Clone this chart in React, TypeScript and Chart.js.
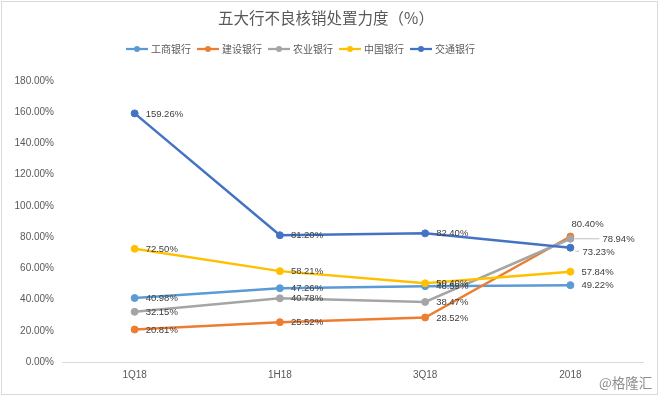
import React, { useEffect, useRef } from "react";
import { Chart, registerables } from "chart.js";

Chart.register(...registerables);

const categories = ["1Q18", "1H18", "3Q18", "2018"];
const seriesNames = ["工商银行", "建设银行", "农业银行", "中国银行", "交通银行"];
const icbcValues = [40.98, 47.26, 48.59, 49.22];
const ccbValues = [20.81, 25.52, 28.52, 80.4];
const abcValues = [32.15, 40.78, 38.47, 78.94];
const bocValues = [72.5, 58.21, 50.4, 57.84];
const bocomValues = [159.26, 81.2, 82.4, 73.23];
const seriesColors = ["#5B9BD5", "#ED7D31", "#A5A5A5", "#FFC000", "#4472C4"];
const yMin = 0;
const yMax = 180;
const yStep = 20;
const titleText = "五大行不良核销处置力度（%）";
const watermarkText = "@格隆汇";

const seriesValues = [icbcValues, ccbValues, abcValues, bocValues, bocomValues];

// label placement tweaks (style only): key "series-index" -> [dx, dy, leaderFrom, leaderTo]
const labelTweaks: Record<string, number[]> = {
  "1-3": [1, -12.5],
  "2-3": [32, 1, 4, 29],
  "4-3": [12, 4.5, 5, 9],
};

const fmt = (v: number) => v.toFixed(2) + "%";

const NUM_FONT = "'Liberation Sans', Arial, 'Noto Sans CJK SC', sans-serif";
const CJK_FONT = "'Noto Sans CJK SC', 'Liberation Sans', sans-serif";

const decorPlugin = {
  id: "decor",
  afterDatasetsDraw(chart: any) {
    const ctx = chart.ctx;
    ctx.save();
    ctx.font = "9.5px " + NUM_FONT;
    ctx.fillStyle = "#404040";
    ctx.textAlign = "left";
    ctx.textBaseline = "middle";
    chart.data.datasets.forEach((ds: any, si: number) => {
      const meta = chart.getDatasetMeta(si);
      meta.data.forEach((pt: any, i: number) => {
        const t = labelTweaks[si + "-" + i] || [11, 0.5];
        const x = pt.x + t[0];
        const y = pt.y + t[1];
        if (t.length > 2) {
          ctx.strokeStyle = "#BFBFBF";
          ctx.lineWidth = 1;
          ctx.beginPath();
          ctx.moveTo(pt.x + t[2], y - 1);
          ctx.lineTo(pt.x + t[3], y - 1);
          ctx.stroke();
        }
        ctx.fillText(fmt(ds.data[i]), x, y);
      });
    });
    ctx.restore();
  },
  afterDraw(chart: any) {
    const ctx = chart.ctx;
    ctx.save();
    // frame
    ctx.strokeStyle = "#D9D9D9";
    ctx.lineWidth = 1;
    ctx.strokeRect(1.5, 1.5, 656, 393);
    // title
    ctx.fillStyle = "#595959";
    ctx.font = "15.5px " + CJK_FONT;
    ctx.textAlign = "center";
    ctx.textBaseline = "middle";
    ctx.fillText(titleText, 326, 18.5);
    // legend
    ctx.font = "10px " + CJK_FONT;
    ctx.textAlign = "left";
    let x = 126;
    const ly = 49;
    seriesNames.forEach((name, i) => {
      ctx.strokeStyle = seriesColors[i];
      ctx.fillStyle = seriesColors[i];
      ctx.lineWidth = 2.25;
      ctx.beginPath();
      ctx.moveTo(x, ly);
      ctx.lineTo(x + 22, ly);
      ctx.stroke();
      ctx.beginPath();
      ctx.arc(x + 11, ly, 3, 0, Math.PI * 2);
      ctx.fill();
      ctx.fillStyle = "#595959";
      ctx.fillText(name, x + 25, ly);
      x += 25 + ctx.measureText(name).width + 6;
    });
    // watermark
    ctx.font = "13.5px " + CJK_FONT;
    ctx.fillStyle = "#8C8C8C";
    ctx.textAlign = "left";
    ctx.fillText(watermarkText, 599, 383);
    ctx.restore();
  },
};

export default function App() {
  const canvasRef = useRef<HTMLCanvasElement | null>(null);

  useEffect(() => {
    if (!canvasRef.current) return;
    const datasets = seriesNames.map((name, i) => ({
      label: name,
      data: seriesValues[i],
      borderColor: seriesColors[i],
      backgroundColor: seriesColors[i],
      pointBackgroundColor: seriesColors[i],
      pointBorderColor: seriesColors[i],
      borderWidth: 2.5,
      pointRadius: 3.5,
      pointBorderWidth: 1,
      tension: 0,
      fill: false,
      order: seriesNames.length - 1 - i,
    }));
    const chart = new Chart(canvasRef.current, {
      type: "line",
      data: { labels: categories, datasets },
      options: {
        animation: false,
        responsive: false,
        devicePixelRatio: 1,
        layout: { padding: { top: 81, right: 17, left: 0, bottom: 0 } },
        plugins: {
          legend: { display: false },
          title: { display: false },
          tooltip: { enabled: false },
        },
        scales: {
          x: {
            offset: true,
            grid: { display: false, drawTicks: false },
            border: { display: true, color: "#D9D9D9", width: 1 },
            ticks: {
              color: "#595959",
              font: { size: 10, family: NUM_FONT },
              padding: 7,
              maxRotation: 0,
            },
            afterFit: (s: any) => {
              s.height = 34;
            },
          },
          y: {
            min: yMin,
            max: yMax,
            grid: { display: false, drawTicks: false },
            border: { display: false },
            ticks: {
              stepSize: yStep,
              color: "#595959",
              font: { size: 10, family: NUM_FONT },
              padding: 8,
              callback: (v: any) => fmt(Number(v)),
            },
            afterFit: (s: any) => {
              s.width = 62;
            },
          },
        },
      },
      plugins: [decorPlugin],
    });
    return () => chart.destroy();
  }, []);

  return (
    <div style={{ position: "absolute", left: 0, top: 0, width: 660, height: 396, background: "#fff" }}>
      <canvas ref={canvasRef} width={660} height={396} style={{ display: "block" }} />
    </div>
  );
}
